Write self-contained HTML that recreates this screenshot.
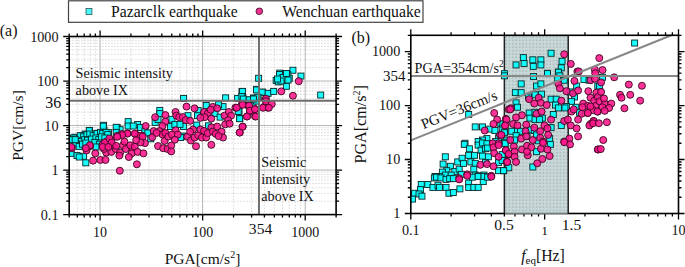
<!DOCTYPE html><html><head><meta charset="utf-8"><style>html,body{margin:0;padding:0;background:#fff;}svg{display:block;}text{font-family:"Liberation Serif", serif;fill:#111;}</style></head><body>
<svg width="685" height="267" viewBox="0 0 685 267">
<defs><clipPath id="cl"><rect x="69.2" y="36.5" width="266.90000000000003" height="178.1"/></clipPath><clipPath id="cr"><rect x="410.8" y="35.3" width="267.7" height="178.2"/></clipPath><pattern id="dots" x="504.3" y="35.3" width="3.4" height="3.4" patternUnits="userSpaceOnUse"><rect width="3.4" height="3.4" fill="#c8d8d8"/><rect x="1.1" y="1.1" width="1.3" height="1.3" fill="#a0afaf"/></pattern></defs>
<line x1="77.32" y1="36.5" x2="77.32" y2="214.6" stroke="#cfcfcf" stroke-width="0.8" stroke-dasharray="1.5,1.5"/>
<line x1="84.19" y1="36.5" x2="84.19" y2="214.6" stroke="#cfcfcf" stroke-width="0.8" stroke-dasharray="1.5,1.5"/>
<line x1="90.14" y1="36.5" x2="90.14" y2="214.6" stroke="#cfcfcf" stroke-width="0.8" stroke-dasharray="1.5,1.5"/>
<line x1="95.38" y1="36.5" x2="95.38" y2="214.6" stroke="#cfcfcf" stroke-width="0.8" stroke-dasharray="1.5,1.5"/>
<line x1="130.95" y1="36.5" x2="130.95" y2="214.6" stroke="#cfcfcf" stroke-width="0.8" stroke-dasharray="1.5,1.5"/>
<line x1="149.02" y1="36.5" x2="149.02" y2="214.6" stroke="#cfcfcf" stroke-width="0.8" stroke-dasharray="1.5,1.5"/>
<line x1="161.83" y1="36.5" x2="161.83" y2="214.6" stroke="#cfcfcf" stroke-width="0.8" stroke-dasharray="1.5,1.5"/>
<line x1="171.77" y1="36.5" x2="171.77" y2="214.6" stroke="#cfcfcf" stroke-width="0.8" stroke-dasharray="1.5,1.5"/>
<line x1="179.89" y1="36.5" x2="179.89" y2="214.6" stroke="#cfcfcf" stroke-width="0.8" stroke-dasharray="1.5,1.5"/>
<line x1="186.76" y1="36.5" x2="186.76" y2="214.6" stroke="#cfcfcf" stroke-width="0.8" stroke-dasharray="1.5,1.5"/>
<line x1="192.71" y1="36.5" x2="192.71" y2="214.6" stroke="#cfcfcf" stroke-width="0.8" stroke-dasharray="1.5,1.5"/>
<line x1="197.96" y1="36.5" x2="197.96" y2="214.6" stroke="#cfcfcf" stroke-width="0.8" stroke-dasharray="1.5,1.5"/>
<line x1="233.53" y1="36.5" x2="233.53" y2="214.6" stroke="#cfcfcf" stroke-width="0.8" stroke-dasharray="1.5,1.5"/>
<line x1="251.59" y1="36.5" x2="251.59" y2="214.6" stroke="#cfcfcf" stroke-width="0.8" stroke-dasharray="1.5,1.5"/>
<line x1="264.4" y1="36.5" x2="264.4" y2="214.6" stroke="#cfcfcf" stroke-width="0.8" stroke-dasharray="1.5,1.5"/>
<line x1="274.35" y1="36.5" x2="274.35" y2="214.6" stroke="#cfcfcf" stroke-width="0.8" stroke-dasharray="1.5,1.5"/>
<line x1="282.47" y1="36.5" x2="282.47" y2="214.6" stroke="#cfcfcf" stroke-width="0.8" stroke-dasharray="1.5,1.5"/>
<line x1="289.33" y1="36.5" x2="289.33" y2="214.6" stroke="#cfcfcf" stroke-width="0.8" stroke-dasharray="1.5,1.5"/>
<line x1="295.28" y1="36.5" x2="295.28" y2="214.6" stroke="#cfcfcf" stroke-width="0.8" stroke-dasharray="1.5,1.5"/>
<line x1="300.53" y1="36.5" x2="300.53" y2="214.6" stroke="#cfcfcf" stroke-width="0.8" stroke-dasharray="1.5,1.5"/>
<line x1="69.2" y1="201.2" x2="336.1" y2="201.2" stroke="#cfcfcf" stroke-width="0.8" stroke-dasharray="1.5,1.5"/>
<line x1="69.2" y1="193.36" x2="336.1" y2="193.36" stroke="#cfcfcf" stroke-width="0.8" stroke-dasharray="1.5,1.5"/>
<line x1="69.2" y1="187.79" x2="336.1" y2="187.79" stroke="#cfcfcf" stroke-width="0.8" stroke-dasharray="1.5,1.5"/>
<line x1="69.2" y1="183.48" x2="336.1" y2="183.48" stroke="#cfcfcf" stroke-width="0.8" stroke-dasharray="1.5,1.5"/>
<line x1="69.2" y1="179.95" x2="336.1" y2="179.95" stroke="#cfcfcf" stroke-width="0.8" stroke-dasharray="1.5,1.5"/>
<line x1="69.2" y1="176.97" x2="336.1" y2="176.97" stroke="#cfcfcf" stroke-width="0.8" stroke-dasharray="1.5,1.5"/>
<line x1="69.2" y1="174.39" x2="336.1" y2="174.39" stroke="#cfcfcf" stroke-width="0.8" stroke-dasharray="1.5,1.5"/>
<line x1="69.2" y1="172.11" x2="336.1" y2="172.11" stroke="#cfcfcf" stroke-width="0.8" stroke-dasharray="1.5,1.5"/>
<line x1="69.2" y1="156.67" x2="336.1" y2="156.67" stroke="#cfcfcf" stroke-width="0.8" stroke-dasharray="1.5,1.5"/>
<line x1="69.2" y1="148.83" x2="336.1" y2="148.83" stroke="#cfcfcf" stroke-width="0.8" stroke-dasharray="1.5,1.5"/>
<line x1="69.2" y1="143.27" x2="336.1" y2="143.27" stroke="#cfcfcf" stroke-width="0.8" stroke-dasharray="1.5,1.5"/>
<line x1="69.2" y1="138.95" x2="336.1" y2="138.95" stroke="#cfcfcf" stroke-width="0.8" stroke-dasharray="1.5,1.5"/>
<line x1="69.2" y1="135.43" x2="336.1" y2="135.43" stroke="#cfcfcf" stroke-width="0.8" stroke-dasharray="1.5,1.5"/>
<line x1="69.2" y1="132.45" x2="336.1" y2="132.45" stroke="#cfcfcf" stroke-width="0.8" stroke-dasharray="1.5,1.5"/>
<line x1="69.2" y1="129.86" x2="336.1" y2="129.86" stroke="#cfcfcf" stroke-width="0.8" stroke-dasharray="1.5,1.5"/>
<line x1="69.2" y1="127.59" x2="336.1" y2="127.59" stroke="#cfcfcf" stroke-width="0.8" stroke-dasharray="1.5,1.5"/>
<line x1="69.2" y1="112.15" x2="336.1" y2="112.15" stroke="#cfcfcf" stroke-width="0.8" stroke-dasharray="1.5,1.5"/>
<line x1="69.2" y1="104.31" x2="336.1" y2="104.31" stroke="#cfcfcf" stroke-width="0.8" stroke-dasharray="1.5,1.5"/>
<line x1="69.2" y1="98.74" x2="336.1" y2="98.74" stroke="#cfcfcf" stroke-width="0.8" stroke-dasharray="1.5,1.5"/>
<line x1="69.2" y1="94.43" x2="336.1" y2="94.43" stroke="#cfcfcf" stroke-width="0.8" stroke-dasharray="1.5,1.5"/>
<line x1="69.2" y1="90.9" x2="336.1" y2="90.9" stroke="#cfcfcf" stroke-width="0.8" stroke-dasharray="1.5,1.5"/>
<line x1="69.2" y1="87.92" x2="336.1" y2="87.92" stroke="#cfcfcf" stroke-width="0.8" stroke-dasharray="1.5,1.5"/>
<line x1="69.2" y1="85.34" x2="336.1" y2="85.34" stroke="#cfcfcf" stroke-width="0.8" stroke-dasharray="1.5,1.5"/>
<line x1="69.2" y1="83.06" x2="336.1" y2="83.06" stroke="#cfcfcf" stroke-width="0.8" stroke-dasharray="1.5,1.5"/>
<line x1="69.2" y1="67.62" x2="336.1" y2="67.62" stroke="#cfcfcf" stroke-width="0.8" stroke-dasharray="1.5,1.5"/>
<line x1="69.2" y1="59.78" x2="336.1" y2="59.78" stroke="#cfcfcf" stroke-width="0.8" stroke-dasharray="1.5,1.5"/>
<line x1="69.2" y1="54.22" x2="336.1" y2="54.22" stroke="#cfcfcf" stroke-width="0.8" stroke-dasharray="1.5,1.5"/>
<line x1="69.2" y1="49.9" x2="336.1" y2="49.9" stroke="#cfcfcf" stroke-width="0.8" stroke-dasharray="1.5,1.5"/>
<line x1="69.2" y1="46.38" x2="336.1" y2="46.38" stroke="#cfcfcf" stroke-width="0.8" stroke-dasharray="1.5,1.5"/>
<line x1="69.2" y1="43.4" x2="336.1" y2="43.4" stroke="#cfcfcf" stroke-width="0.8" stroke-dasharray="1.5,1.5"/>
<line x1="69.2" y1="40.81" x2="336.1" y2="40.81" stroke="#cfcfcf" stroke-width="0.8" stroke-dasharray="1.5,1.5"/>
<line x1="69.2" y1="38.54" x2="336.1" y2="38.54" stroke="#cfcfcf" stroke-width="0.8" stroke-dasharray="1.5,1.5"/>
<line x1="100.08" y1="36.5" x2="100.08" y2="214.6" stroke="#b4b4b4" stroke-width="1"/>
<line x1="202.65" y1="36.5" x2="202.65" y2="214.6" stroke="#b4b4b4" stroke-width="1"/>
<line x1="305.22" y1="36.5" x2="305.22" y2="214.6" stroke="#b4b4b4" stroke-width="1"/>
<line x1="69.2" y1="170.07" x2="336.1" y2="170.07" stroke="#b4b4b4" stroke-width="1"/>
<line x1="69.2" y1="125.55" x2="336.1" y2="125.55" stroke="#b4b4b4" stroke-width="1"/>
<line x1="69.2" y1="81.03" x2="336.1" y2="81.03" stroke="#b4b4b4" stroke-width="1"/>
<g clip-path="url(#cl)"><g fill="#00ffff" fill-opacity="0.9" stroke="#082828" stroke-width="0.9"><rect x="156.8" y="107.39" width="6" height="6"/><rect x="156.8" y="110.6" width="6" height="6"/><rect x="125.12" y="118.63" width="6" height="6"/><rect x="125.12" y="123.01" width="6" height="6"/><rect x="100.6" y="122.28" width="6" height="6"/><rect x="134.61" y="121.55" width="6" height="6"/><rect x="130.23" y="123.01" width="6" height="6"/><rect x="137.53" y="124.47" width="6" height="6"/><rect x="114.18" y="124.47" width="6" height="6"/><rect x="86.44" y="127.39" width="6" height="6"/><rect x="101.04" y="127.39" width="6" height="6"/><rect x="105.42" y="129.58" width="6" height="6"/><rect x="94.47" y="130.31" width="6" height="6"/><rect x="98.85" y="131.04" width="6" height="6"/><rect x="89.36" y="131.04" width="6" height="6"/><rect x="82.06" y="131.04" width="6" height="6"/><rect x="79.14" y="132.5" width="6" height="6"/><rect x="71.84" y="134.25" width="6" height="6"/><rect x="117.09" y="126.66" width="6" height="6"/><rect x="141.91" y="128.12" width="6" height="6"/><rect x="152.13" y="119.36" width="6" height="6"/><rect x="155.05" y="116.44" width="6" height="6"/><rect x="68.19" y="150.36" width="6" height="6"/><rect x="74.03" y="152.55" width="6" height="6"/><rect x="80.6" y="153.28" width="6" height="6"/><rect x="76.22" y="154.01" width="6" height="6"/><rect x="82.79" y="159.85" width="6" height="6"/><rect x="144.83" y="129.92" width="6" height="6"/><rect x="147.75" y="135.76" width="6" height="6"/><rect x="180.6" y="95.43" width="6" height="6"/><rect x="222.64" y="94.85" width="6" height="6"/><rect x="238.99" y="88.57" width="6" height="6"/><rect x="253.59" y="86.38" width="6" height="6"/><rect x="259.43" y="89.3" width="6" height="6"/><rect x="263.81" y="90.76" width="6" height="6"/><rect x="234.61" y="95.43" width="6" height="6"/><rect x="239.72" y="94.85" width="6" height="6"/><rect x="250.67" y="95.14" width="6" height="6"/><rect x="255.05" y="94.41" width="6" height="6"/><rect x="247.02" y="97.33" width="6" height="6"/><rect x="203.23" y="102.44" width="6" height="6"/><rect x="220.01" y="103.61" width="6" height="6"/><rect x="215.64" y="101.71" width="6" height="6"/><rect x="195.2" y="107.55" width="6" height="6"/><rect x="194.47" y="112.66" width="6" height="6"/><rect x="184.98" y="112.66" width="6" height="6"/><rect x="168.92" y="116.31" width="6" height="6"/><rect x="211.99" y="110.47" width="6" height="6"/><rect x="217.09" y="114.12" width="6" height="6"/><rect x="236.07" y="108.28" width="6" height="6"/><rect x="236.8" y="115.58" width="6" height="6"/><rect x="249.94" y="100.25" width="6" height="6"/><rect x="253.59" y="98.06" width="6" height="6"/><rect x="167.46" y="123.57" width="6" height="6"/><rect x="171.84" y="121.38" width="6" height="6"/><rect x="180.6" y="123.57" width="6" height="6"/><rect x="176.95" y="121.38" width="6" height="6"/><rect x="193.74" y="122.11" width="6" height="6"/><rect x="179.87" y="133.06" width="6" height="6"/><rect x="177.68" y="134.52" width="6" height="6"/><rect x="205.42" y="122.84" width="6" height="6"/><rect x="255.63" y="75.25" width="6" height="6"/><rect x="289.93" y="67.22" width="6" height="6"/><rect x="297.96" y="73.06" width="6" height="6"/><rect x="276.8" y="70.14" width="6" height="6"/><rect x="278.99" y="71.6" width="6" height="6"/><rect x="281.18" y="73.06" width="6" height="6"/><rect x="284.82" y="71.6" width="6" height="6"/><rect x="283.36" y="74.52" width="6" height="6"/><rect x="286.28" y="75.25" width="6" height="6"/><rect x="276.8" y="74.52" width="6" height="6"/><rect x="273.15" y="77.44" width="6" height="6"/><rect x="275.34" y="78.9" width="6" height="6"/><rect x="279.72" y="76.71" width="6" height="6"/><rect x="282.64" y="70.87" width="6" height="6"/><rect x="283.36" y="83.28" width="6" height="6"/><rect x="253.44" y="86.93" width="6" height="6"/><rect x="259.28" y="89.12" width="6" height="6"/><rect x="265.12" y="90.28" width="6" height="6"/><rect x="270.66" y="88.39" width="6" height="6"/><rect x="239.57" y="88.39" width="6" height="6"/><rect x="238.84" y="93.5" width="6" height="6"/><rect x="317.67" y="92.04" width="6" height="6"/><rect x="250.52" y="95.25" width="6" height="6"/><rect x="254.9" y="94.23" width="6" height="6"/><rect x="235.19" y="108.41" width="6" height="6"/><rect x="236.65" y="115.71" width="6" height="6"/><rect x="240.3" y="96" width="6" height="6"/><rect x="246.14" y="96.73" width="6" height="6"/><rect x="250.52" y="96" width="6" height="6"/><rect x="100.27" y="123.18" width="6" height="6"/><rect x="86.22" y="127.67" width="6" height="6"/><rect x="70.49" y="134.98" width="6" height="6"/><rect x="77.24" y="132.73" width="6" height="6"/><rect x="80.61" y="133.85" width="6" height="6"/><rect x="83.98" y="131.61" width="6" height="6"/><rect x="86.79" y="131.04" width="6" height="6"/><rect x="90.16" y="132.73" width="6" height="6"/><rect x="94.09" y="130.48" width="6" height="6"/><rect x="97.46" y="129.36" width="6" height="6"/><rect x="99.71" y="130.48" width="6" height="6"/><rect x="103.08" y="129.36" width="6" height="6"/><rect x="104.76" y="131.61" width="6" height="6"/><rect x="113.19" y="124.3" width="6" height="6"/><rect x="113.19" y="129.36" width="6" height="6"/><rect x="74.99" y="137.79" width="6" height="6"/><rect x="78.36" y="138.35" width="6" height="6"/><rect x="81.73" y="136.66" width="6" height="6"/><rect x="84.54" y="137.22" width="6" height="6"/><rect x="88.47" y="136.1" width="6" height="6"/><rect x="92.97" y="134.98" width="6" height="6"/><rect x="95.78" y="136.66" width="6" height="6"/><rect x="98.58" y="133.85" width="6" height="6"/><rect x="101.96" y="134.98" width="6" height="6"/><rect x="69.37" y="139.47" width="6" height="6"/><rect x="72.74" y="140.6" width="6" height="6"/><rect x="76.11" y="143.4" width="6" height="6"/><rect x="79.48" y="141.16" width="6" height="6"/><rect x="82.85" y="140.03" width="6" height="6"/><rect x="91.84" y="139.47" width="6" height="6"/><rect x="96.34" y="141.16" width="6" height="6"/><rect x="92.97" y="143.97" width="6" height="6"/><rect x="68.25" y="136.66" width="6" height="6"/><rect x="72.18" y="136.66" width="6" height="6"/><rect x="276.5" y="71.5" width="6" height="6"/><rect x="280" y="74.5" width="6" height="6"/><rect x="283.5" y="70.5" width="6" height="6"/><rect x="278" y="78" width="6" height="6"/><rect x="274.5" y="76" width="6" height="6"/><rect x="285" y="77" width="6" height="6"/></g><g fill="#ff168c" fill-opacity="0.88" stroke="#420a26" stroke-width="0.95"><circle cx="155.13" cy="117.25" r="3.5"/><circle cx="165.35" cy="115.06" r="3.5"/><circle cx="165.35" cy="121.63" r="3.5"/><circle cx="162.43" cy="126.01" r="3.5"/><circle cx="145.64" cy="126.01" r="3.5"/><circle cx="153.67" cy="131.12" r="3.5"/><circle cx="159.51" cy="131.12" r="3.5"/><circle cx="163.89" cy="133.31" r="3.5"/><circle cx="127.39" cy="133.31" r="3.5"/><circle cx="121.55" cy="134.04" r="3.5"/><circle cx="135.42" cy="134.04" r="3.5"/><circle cx="141.99" cy="135.5" r="3.5"/><circle cx="71.92" cy="148.25" r="3.5"/><circle cx="86.52" cy="150.44" r="3.5"/><circle cx="90.17" cy="146.06" r="3.5"/><circle cx="95.28" cy="153.36" r="3.5"/><circle cx="93.09" cy="160.66" r="3.5"/><circle cx="100.39" cy="159.93" r="3.5"/><circle cx="105.5" cy="159.93" r="3.5"/><circle cx="106.23" cy="152.63" r="3.5"/><circle cx="104.04" cy="148.98" r="3.5"/><circle cx="108.42" cy="143.87" r="3.5"/><circle cx="112.8" cy="146.06" r="3.5"/><circle cx="111.34" cy="151.9" r="3.5"/><circle cx="115.72" cy="148.98" r="3.5"/><circle cx="120.09" cy="152.63" r="3.5"/><circle cx="119.36" cy="155.55" r="3.5"/><circle cx="123.01" cy="145.33" r="3.5"/><circle cx="124.47" cy="141.68" r="3.5"/><circle cx="125.93" cy="148.98" r="3.5"/><circle cx="127.39" cy="133.65" r="3.5"/><circle cx="122.28" cy="135.11" r="3.5"/><circle cx="117.18" cy="135.84" r="3.5"/><circle cx="111.34" cy="140.22" r="3.5"/><circle cx="106.23" cy="141.68" r="3.5"/><circle cx="102.58" cy="144.6" r="3.5"/><circle cx="131.77" cy="147.52" r="3.5"/><circle cx="130.31" cy="145.33" r="3.5"/><circle cx="134.69" cy="146.79" r="3.5"/><circle cx="131.77" cy="153.36" r="3.5"/><circle cx="128.85" cy="157.01" r="3.5"/><circle cx="137.61" cy="151.9" r="3.5"/><circle cx="143.45" cy="153.36" r="3.5"/><circle cx="139.07" cy="135.84" r="3.5"/><circle cx="142.72" cy="136.57" r="3.5"/><circle cx="134.69" cy="133.65" r="3.5"/><circle cx="144.91" cy="143.14" r="3.5"/><circle cx="140.53" cy="142.41" r="3.5"/><circle cx="136.15" cy="140.22" r="3.5"/><circle cx="152.21" cy="137.3" r="3.5"/><circle cx="158.05" cy="146.06" r="3.5"/><circle cx="162.43" cy="134.38" r="3.5"/><circle cx="164.62" cy="140.95" r="3.5"/><circle cx="165.35" cy="132.92" r="3.5"/><circle cx="156.59" cy="132.92" r="3.5"/><circle cx="163.16" cy="148.25" r="3.5"/><circle cx="167.54" cy="148.98" r="3.5"/><circle cx="136.88" cy="164.31" r="3.5"/><circle cx="119.8" cy="170.73" r="3.5"/><circle cx="168.27" cy="136.57" r="3.5"/><circle cx="186.52" cy="106.61" r="3.5"/><circle cx="194.55" cy="108.36" r="3.5"/><circle cx="175.57" cy="112.01" r="3.5"/><circle cx="176.3" cy="115.66" r="3.5"/><circle cx="179.22" cy="117.12" r="3.5"/><circle cx="182.87" cy="117.12" r="3.5"/><circle cx="185.79" cy="120.04" r="3.5"/><circle cx="190.17" cy="120.77" r="3.5"/><circle cx="204.04" cy="112.01" r="3.5"/><circle cx="207.69" cy="113.47" r="3.5"/><circle cx="204.77" cy="117.12" r="3.5"/><circle cx="200.39" cy="117.85" r="3.5"/><circle cx="211.34" cy="118.58" r="3.5"/><circle cx="212.8" cy="106.9" r="3.5"/><circle cx="217.18" cy="108.36" r="3.5"/><circle cx="210.61" cy="109.82" r="3.5"/><circle cx="224.47" cy="115.66" r="3.5"/><circle cx="228.85" cy="112.01" r="3.5"/><circle cx="231.04" cy="115.66" r="3.5"/><circle cx="228.12" cy="120.04" r="3.5"/><circle cx="235.42" cy="107.63" r="3.5"/><circle cx="241.99" cy="103.98" r="3.5"/><circle cx="248.56" cy="106.17" r="3.5"/><circle cx="250.02" cy="111.28" r="3.5"/><circle cx="255.13" cy="109.09" r="3.5"/><circle cx="247.1" cy="116.39" r="3.5"/><circle cx="255.13" cy="116.39" r="3.5"/><circle cx="263.89" cy="106.9" r="3.5"/><circle cx="265.35" cy="99.6" r="3.5"/><circle cx="267.54" cy="107.63" r="3.5"/><circle cx="175.57" cy="130.22" r="3.5"/><circle cx="171.92" cy="134.6" r="3.5"/><circle cx="177.76" cy="134.6" r="3.5"/><circle cx="174.84" cy="139.71" r="3.5"/><circle cx="171.19" cy="145.55" r="3.5"/><circle cx="171.19" cy="151.39" r="3.5"/><circle cx="187.25" cy="136.79" r="3.5"/><circle cx="190.9" cy="140.44" r="3.5"/><circle cx="194.55" cy="137.52" r="3.5"/><circle cx="196.01" cy="146.28" r="3.5"/><circle cx="193.09" cy="129.49" r="3.5"/><circle cx="190.17" cy="131.68" r="3.5"/><circle cx="198.2" cy="135.33" r="3.5"/><circle cx="200.39" cy="129.49" r="3.5"/><circle cx="204.04" cy="130.95" r="3.5"/><circle cx="201.85" cy="137.52" r="3.5"/><circle cx="206.23" cy="137.52" r="3.5"/><circle cx="207.69" cy="133.14" r="3.5"/><circle cx="211.34" cy="127.3" r="3.5"/><circle cx="212.8" cy="131.68" r="3.5"/><circle cx="217.18" cy="126.57" r="3.5"/><circle cx="215.72" cy="133.87" r="3.5"/><circle cx="211.34" cy="144.82" r="3.5"/><circle cx="221.55" cy="131.68" r="3.5"/><circle cx="223.01" cy="137.52" r="3.5"/><circle cx="218.64" cy="136.06" r="3.5"/><circle cx="225.2" cy="124.38" r="3.5"/><circle cx="229.58" cy="123.65" r="3.5"/><circle cx="242.72" cy="126.57" r="3.5"/><circle cx="239.8" cy="132.41" r="3.5"/><circle cx="298.77" cy="81.17" r="3.5"/><circle cx="281.26" cy="91.39" r="3.5"/><circle cx="292.93" cy="95.77" r="3.5"/><circle cx="265.93" cy="98.69" r="3.5"/><circle cx="242.57" cy="104.84" r="3.5"/><circle cx="236.73" cy="107.76" r="3.5"/><circle cx="249.14" cy="105.57" r="3.5"/><circle cx="249.87" cy="110.68" r="3.5"/><circle cx="254.98" cy="109.22" r="3.5"/><circle cx="255.71" cy="116.52" r="3.5"/><circle cx="246.95" cy="116.52" r="3.5"/><circle cx="265.93" cy="101.19" r="3.5"/><circle cx="271.77" cy="104.11" r="3.5"/><circle cx="263.01" cy="107.76" r="3.5"/><circle cx="268.85" cy="107.76" r="3.5"/><circle cx="242.57" cy="126.74" r="3.5"/><circle cx="239.65" cy="132.58" r="3.5"/><circle cx="71.25" cy="146.97" r="3.5"/><circle cx="89.79" cy="145.28" r="3.5"/><circle cx="85.85" cy="148.09" r="3.5"/><circle cx="104.96" cy="142.47" r="3.5"/><circle cx="109.45" cy="138.54" r="3.5"/><circle cx="111.7" cy="142.47" r="3.5"/><circle cx="116.19" cy="145.84" r="3.5"/><circle cx="117.31" cy="136.85" r="3.5"/><circle cx="102.71" cy="146.97" r="3.5"/><circle cx="108.33" cy="146.97" r="3.5"/></g></g>
<line x1="258.96" y1="36.5" x2="258.96" y2="214.6" stroke="#6e6e6e" stroke-width="2"/>
<line x1="69.2" y1="100.78" x2="336.1" y2="100.78" stroke="#6e6e6e" stroke-width="2"/>
<path d="M69.2 214.6v3M69.2 36.5v-3M77.32 214.6v3M77.32 36.5v-3M84.19 214.6v3M84.19 36.5v-3M90.14 214.6v3M90.14 36.5v-3M95.38 214.6v3M95.38 36.5v-3M100.08 214.6v6M100.08 36.5v-6M130.95 214.6v3M130.95 36.5v-3M149.02 214.6v3M149.02 36.5v-3M161.83 214.6v3M161.83 36.5v-3M171.77 214.6v3M171.77 36.5v-3M179.89 214.6v3M179.89 36.5v-3M186.76 214.6v3M186.76 36.5v-3M192.71 214.6v3M192.71 36.5v-3M197.96 214.6v3M197.96 36.5v-3M202.65 214.6v6M202.65 36.5v-6M233.53 214.6v3M233.53 36.5v-3M251.59 214.6v3M251.59 36.5v-3M264.4 214.6v3M264.4 36.5v-3M274.35 214.6v3M274.35 36.5v-3M282.47 214.6v3M282.47 36.5v-3M289.33 214.6v3M289.33 36.5v-3M295.28 214.6v3M295.28 36.5v-3M300.53 214.6v3M300.53 36.5v-3M305.22 214.6v6M305.22 36.5v-6M336.1 214.6v3M336.1 36.5v-3M69.2 214.6h-6M336.1 214.6h6M69.2 201.2h-3M336.1 201.2h3M69.2 193.36h-3M336.1 193.36h3M69.2 187.79h-3M336.1 187.79h3M69.2 183.48h-3M336.1 183.48h3M69.2 179.95h-3M336.1 179.95h3M69.2 176.97h-3M336.1 176.97h3M69.2 174.39h-3M336.1 174.39h3M69.2 172.11h-3M336.1 172.11h3M69.2 170.07h-6M336.1 170.07h6M69.2 156.67h-3M336.1 156.67h3M69.2 148.83h-3M336.1 148.83h3M69.2 143.27h-3M336.1 143.27h3M69.2 138.95h-3M336.1 138.95h3M69.2 135.43h-3M336.1 135.43h3M69.2 132.45h-3M336.1 132.45h3M69.2 129.86h-3M336.1 129.86h3M69.2 127.59h-3M336.1 127.59h3M69.2 125.55h-6M336.1 125.55h6M69.2 112.15h-3M336.1 112.15h3M69.2 104.31h-3M336.1 104.31h3M69.2 98.74h-3M336.1 98.74h3M69.2 94.43h-3M336.1 94.43h3M69.2 90.9h-3M336.1 90.9h3M69.2 87.92h-3M336.1 87.92h3M69.2 85.34h-3M336.1 85.34h3M69.2 83.06h-3M336.1 83.06h3M69.2 81.03h-6M336.1 81.03h6M69.2 67.62h-3M336.1 67.62h3M69.2 59.78h-3M336.1 59.78h3M69.2 54.22h-3M336.1 54.22h3M69.2 49.9h-3M336.1 49.9h3M69.2 46.38h-3M336.1 46.38h3M69.2 43.4h-3M336.1 43.4h3M69.2 40.81h-3M336.1 40.81h3M69.2 38.54h-3M336.1 38.54h3M69.2 36.5h-6M336.1 36.5h6" stroke="#000" stroke-width="1.3" fill="none"/>
<rect x="69.2" y="36.5" width="266.9" height="178.1" fill="none" stroke="#000" stroke-width="1.6"/>
<rect x="504.36" y="35.3" width="63.86" height="178.2" fill="url(#dots)"/>
<line x1="504.36" y1="35.3" x2="504.36" y2="213.5" stroke="#222" stroke-width="1.5"/>
<line x1="568.22" y1="35.3" x2="568.22" y2="213.5" stroke="#222" stroke-width="1.5"/>
<g clip-path="url(#cr)"><g fill="#00ffff" fill-opacity="0.9" stroke="#082828" stroke-width="0.9"><rect x="548.09" y="50.25" width="6" height="6"/><rect x="520.36" y="54.63" width="6" height="6"/><rect x="521.09" y="60.47" width="6" height="6"/><rect x="513.06" y="61.93" width="6" height="6"/><rect x="529.85" y="56.82" width="6" height="6"/><rect x="530.28" y="63.39" width="6" height="6"/><rect x="537.88" y="56.82" width="6" height="6"/><rect x="537.88" y="61.93" width="6" height="6"/><rect x="559.04" y="58.28" width="6" height="6"/><rect x="558.31" y="64.85" width="6" height="6"/><rect x="501.38" y="70.69" width="6" height="6"/><rect x="544.45" y="70.25" width="6" height="6"/><rect x="555.39" y="69.23" width="6" height="6"/><rect x="465.66" y="111.49" width="6" height="6"/><rect x="472.23" y="123.9" width="6" height="6"/><rect x="479.53" y="123.9" width="6" height="6"/><rect x="486.83" y="126.09" width="6" height="6"/><rect x="491.94" y="127.55" width="6" height="6"/><rect x="497.78" y="120.98" width="6" height="6"/><rect x="499.24" y="125.36" width="6" height="6"/><rect x="501.43" y="129.01" width="6" height="6"/><rect x="495.59" y="134.85" width="6" height="6"/><rect x="483.91" y="135.58" width="6" height="6"/><rect x="479.53" y="137.04" width="6" height="6"/><rect x="475.15" y="138.5" width="6" height="6"/><rect x="462.01" y="140.25" width="6" height="6"/><rect x="492.67" y="138.5" width="6" height="6"/><rect x="503.62" y="137.04" width="6" height="6"/><rect x="461.28" y="141.38" width="6" height="6"/><rect x="466.39" y="145.76" width="6" height="6"/><rect x="475.15" y="142.11" width="6" height="6"/><rect x="479.53" y="139.92" width="6" height="6"/><rect x="483.91" y="140.65" width="6" height="6"/><rect x="478.07" y="147.22" width="6" height="6"/><rect x="482.45" y="145.76" width="6" height="6"/><rect x="484.64" y="145.03" width="6" height="6"/><rect x="442.31" y="153.79" width="6" height="6"/><rect x="440.12" y="161.09" width="6" height="6"/><rect x="447.42" y="163.28" width="6" height="6"/><rect x="443.77" y="167.66" width="6" height="6"/><rect x="439.39" y="169.12" width="6" height="6"/><rect x="432.09" y="173.5" width="6" height="6"/><rect x="437.2" y="173.5" width="6" height="6"/><rect x="442.31" y="172.04" width="6" height="6"/><rect x="451.8" y="168.39" width="6" height="6"/><rect x="456.18" y="166.2" width="6" height="6"/><rect x="454.72" y="158.9" width="6" height="6"/><rect x="459.09" y="155.25" width="6" height="6"/><rect x="460.55" y="160.36" width="6" height="6"/><rect x="465.66" y="152.33" width="6" height="6"/><rect x="471.5" y="152.33" width="6" height="6"/><rect x="467.85" y="158.9" width="6" height="6"/><rect x="472.23" y="160.36" width="6" height="6"/><rect x="479.53" y="153.06" width="6" height="6"/><rect x="485.37" y="153.79" width="6" height="6"/><rect x="482.45" y="159.63" width="6" height="6"/><rect x="495.59" y="159.63" width="6" height="6"/><rect x="501.43" y="157.44" width="6" height="6"/><rect x="495.59" y="167.66" width="6" height="6"/><rect x="500.7" y="167.66" width="6" height="6"/><rect x="470.77" y="166.2" width="6" height="6"/><rect x="472.23" y="172.04" width="6" height="6"/><rect x="475.88" y="172.77" width="6" height="6"/><rect x="480.99" y="172.04" width="6" height="6"/><rect x="448.15" y="172.04" width="6" height="6"/><rect x="458.36" y="171.31" width="6" height="6"/><rect x="418.22" y="181.49" width="6" height="6"/><rect x="424.79" y="181.49" width="6" height="6"/><rect x="417.49" y="186.6" width="6" height="6"/><rect x="411.65" y="190.25" width="6" height="6"/><rect x="416.03" y="190.98" width="6" height="6"/><rect x="418.95" y="193.17" width="6" height="6"/><rect x="409.46" y="196.09" width="6" height="6"/><rect x="429.9" y="184.41" width="6" height="6"/><rect x="435.01" y="182.22" width="6" height="6"/><rect x="436.47" y="184.41" width="6" height="6"/><rect x="443.04" y="184.41" width="6" height="6"/><rect x="445.96" y="190.25" width="6" height="6"/><rect x="450.34" y="189.52" width="6" height="6"/><rect x="456.91" y="185.87" width="6" height="6"/><rect x="465.66" y="180.03" width="6" height="6"/><rect x="465.66" y="184.41" width="6" height="6"/><rect x="470.77" y="184.41" width="6" height="6"/><rect x="475.15" y="184.41" width="6" height="6"/><rect x="480.26" y="178.57" width="6" height="6"/><rect x="431.36" y="174.92" width="6" height="6"/><rect x="433.55" y="174.19" width="6" height="6"/><rect x="437.93" y="174.92" width="6" height="6"/><rect x="443.04" y="176.38" width="6" height="6"/><rect x="446.69" y="175.65" width="6" height="6"/><rect x="450.34" y="175.65" width="6" height="6"/><rect x="469.31" y="174.19" width="6" height="6"/><rect x="475.15" y="173.46" width="6" height="6"/><rect x="480.99" y="173.46" width="6" height="6"/><rect x="484.64" y="174.19" width="6" height="6"/><rect x="501.38" y="72.84" width="6" height="6"/><rect x="530.58" y="73.57" width="6" height="6"/><rect x="544.45" y="70.65" width="6" height="6"/><rect x="555.39" y="69.19" width="6" height="6"/><rect x="556.85" y="72.84" width="6" height="6"/><rect x="554.66" y="76.49" width="6" height="6"/><rect x="561.23" y="77.22" width="6" height="6"/><rect x="518.17" y="80.87" width="6" height="6"/><rect x="533.5" y="83.06" width="6" height="6"/><rect x="537.88" y="80.87" width="6" height="6"/><rect x="512.33" y="89.63" width="6" height="6"/><rect x="518.17" y="89.63" width="6" height="6"/><rect x="525.47" y="94.01" width="6" height="6"/><rect x="532.04" y="91.82" width="6" height="6"/><rect x="538.61" y="91.09" width="6" height="6"/><rect x="548.09" y="96.2" width="6" height="6"/><rect x="553.2" y="96.2" width="6" height="6"/><rect x="552.47" y="102.04" width="6" height="6"/><rect x="513.06" y="99.85" width="6" height="6"/><rect x="514.52" y="104.23" width="6" height="6"/><rect x="567.07" y="88.9" width="6" height="6"/><rect x="571.45" y="94.01" width="6" height="6"/><rect x="568.53" y="98.39" width="6" height="6"/><rect x="573.64" y="83.06" width="6" height="6"/><rect x="580.94" y="76.49" width="6" height="6"/><rect x="586.05" y="77.22" width="6" height="6"/><rect x="594.81" y="83.06" width="6" height="6"/><rect x="572.91" y="104.23" width="6" height="6"/><rect x="563.42" y="103.5" width="6" height="6"/><rect x="526.2" y="110.03" width="6" height="6"/><rect x="532.04" y="109.3" width="6" height="6"/><rect x="539.34" y="115.14" width="6" height="6"/><rect x="526.93" y="115.14" width="6" height="6"/><rect x="532.04" y="116.6" width="6" height="6"/><rect x="536.42" y="116.6" width="6" height="6"/><rect x="550.28" y="111.49" width="6" height="6"/><rect x="561.96" y="104.92" width="6" height="6"/><rect x="558.31" y="122.44" width="6" height="6"/><rect x="508.68" y="128.28" width="6" height="6"/><rect x="514.52" y="127.55" width="6" height="6"/><rect x="517.44" y="128.28" width="6" height="6"/><rect x="527.66" y="126.82" width="6" height="6"/><rect x="531.31" y="127.55" width="6" height="6"/><rect x="501.38" y="129.74" width="6" height="6"/><rect x="499.92" y="120.98" width="6" height="6"/><rect x="513.06" y="132.66" width="6" height="6"/><rect x="524.01" y="133.39" width="6" height="6"/><rect x="533.5" y="131.93" width="6" height="6"/><rect x="548.09" y="124.63" width="6" height="6"/><rect x="546.64" y="135.58" width="6" height="6"/><rect x="502.11" y="139.23" width="6" height="6"/><rect x="511.6" y="137.04" width="6" height="6"/><rect x="534.96" y="137.77" width="6" height="6"/><rect x="576.56" y="109.3" width="6" height="6"/><rect x="555.39" y="104.92" width="6" height="6"/><rect x="502.11" y="140.65" width="6" height="6"/><rect x="499.19" y="151.6" width="6" height="6"/><rect x="499.19" y="157.44" width="6" height="6"/><rect x="505.76" y="164.74" width="6" height="6"/><rect x="500.65" y="167.66" width="6" height="6"/><rect x="529.85" y="164.01" width="6" height="6"/><rect x="533.5" y="148.68" width="6" height="6"/><rect x="547.36" y="141.38" width="6" height="6"/><rect x="631.64" y="40.03" width="6" height="6"/><rect x="596.6" y="83.06" width="6" height="6"/><rect x="595.14" y="94.01" width="6" height="6"/><rect x="599.52" y="74.3" width="6" height="6"/></g><g fill="#ff168c" fill-opacity="0.88" stroke="#420a26" stroke-width="0.95"><circle cx="564.23" cy="54.27" r="3.5"/><circle cx="570.8" cy="63.91" r="3.5"/><circle cx="577.37" cy="71.5" r="3.5"/><circle cx="599.27" cy="58.07" r="3.5"/><circle cx="594.89" cy="69.74" r="3.5"/><circle cx="494.21" cy="113.03" r="3.5"/><circle cx="497.13" cy="119.6" r="3.5"/><circle cx="505.89" cy="118.87" r="3.5"/><circle cx="493.48" cy="123.98" r="3.5"/><circle cx="505.16" cy="125.44" r="3.5"/><circle cx="484.72" cy="130.55" r="3.5"/><circle cx="500.05" cy="134.93" r="3.5"/><circle cx="508.81" cy="109.38" r="3.5"/><circle cx="492.75" cy="143.25" r="3.5"/><circle cx="498.59" cy="143.25" r="3.5"/><circle cx="493.48" cy="147.3" r="3.5"/><circle cx="498.59" cy="145.11" r="3.5"/><circle cx="494.21" cy="153.14" r="3.5"/><circle cx="498.59" cy="156.79" r="3.5"/><circle cx="505.89" cy="150.22" r="3.5"/><circle cx="508.81" cy="154.6" r="3.5"/><circle cx="506.62" cy="161.9" r="3.5"/><circle cx="480.34" cy="164.82" r="3.5"/><circle cx="486.91" cy="164.09" r="3.5"/><circle cx="493.48" cy="166.28" r="3.5"/><circle cx="467.2" cy="174.31" r="3.5"/><circle cx="491.29" cy="175.77" r="3.5"/><circle cx="459.18" cy="178.25" r="3.5"/><circle cx="459.18" cy="179.38" r="3.5"/><circle cx="467.2" cy="175.73" r="3.5"/><circle cx="491.29" cy="176.75" r="3.5"/><circle cx="558.39" cy="83.87" r="3.5"/><circle cx="559.85" cy="88.25" r="3.5"/><circle cx="566.42" cy="91.17" r="3.5"/><circle cx="572.99" cy="93.36" r="3.5"/><circle cx="578.1" cy="90.44" r="3.5"/><circle cx="574.45" cy="80.95" r="3.5"/><circle cx="578.83" cy="71.46" r="3.5"/><circle cx="590.51" cy="80.22" r="3.5"/><circle cx="594.89" cy="78.76" r="3.5"/><circle cx="588.32" cy="91.17" r="3.5"/><circle cx="596.35" cy="92.63" r="3.5"/><circle cx="529.2" cy="99.2" r="3.5"/><circle cx="534.31" cy="103.58" r="3.5"/><circle cx="538.69" cy="97.74" r="3.5"/><circle cx="540.88" cy="102.85" r="3.5"/><circle cx="546.72" cy="105.04" r="3.5"/><circle cx="561.31" cy="100.66" r="3.5"/><circle cx="583.21" cy="103.58" r="3.5"/><circle cx="590.51" cy="97.74" r="3.5"/><circle cx="594.16" cy="100.66" r="3.5"/><circle cx="597.81" cy="97.01" r="3.5"/><circle cx="510.95" cy="108.25" r="3.5"/><circle cx="595.62" cy="105.77" r="3.5"/><circle cx="587.59" cy="105.77" r="3.5"/><circle cx="510.22" cy="109.38" r="3.5"/><circle cx="521.9" cy="115.22" r="3.5"/><circle cx="516.06" cy="117.41" r="3.5"/><circle cx="506.57" cy="119.6" r="3.5"/><circle cx="536.5" cy="113.76" r="3.5"/><circle cx="541.61" cy="111.57" r="3.5"/><circle cx="551.09" cy="119.6" r="3.5"/><circle cx="564.23" cy="121.06" r="3.5"/><circle cx="567.88" cy="119.6" r="3.5"/><circle cx="571.53" cy="111.57" r="3.5"/><circle cx="573.72" cy="109.38" r="3.5"/><circle cx="578.1" cy="119.6" r="3.5"/><circle cx="581.75" cy="113.76" r="3.5"/><circle cx="587.59" cy="113.03" r="3.5"/><circle cx="593.43" cy="110.11" r="3.5"/><circle cx="597.81" cy="111.57" r="3.5"/><circle cx="590.51" cy="123.98" r="3.5"/><circle cx="593.43" cy="121.06" r="3.5"/><circle cx="570.8" cy="125.44" r="3.5"/><circle cx="576.64" cy="128.36" r="3.5"/><circle cx="578.1" cy="136.39" r="3.5"/><circle cx="505.11" cy="125.44" r="3.5"/><circle cx="513.14" cy="123.98" r="3.5"/><circle cx="517.52" cy="125.44" r="3.5"/><circle cx="526.28" cy="124.71" r="3.5"/><circle cx="534.31" cy="127.63" r="3.5"/><circle cx="544.53" cy="125.44" r="3.5"/><circle cx="547.45" cy="128.36" r="3.5"/><circle cx="540.15" cy="131.28" r="3.5"/><circle cx="525.55" cy="131.28" r="3.5"/><circle cx="501.46" cy="134.93" r="3.5"/><circle cx="510.22" cy="140.04" r="3.5"/><circle cx="521.17" cy="138.58" r="3.5"/><circle cx="526.28" cy="136.39" r="3.5"/><circle cx="532.85" cy="140.04" r="3.5"/><circle cx="540.15" cy="137.85" r="3.5"/><circle cx="548.18" cy="134.93" r="3.5"/><circle cx="543.07" cy="141.5" r="3.5"/><circle cx="564.23" cy="141.5" r="3.5"/><circle cx="569.34" cy="138.58" r="3.5"/><circle cx="582.48" cy="107.19" r="3.5"/><circle cx="590.51" cy="106.46" r="3.5"/><circle cx="505.84" cy="150.22" r="3.5"/><circle cx="508.76" cy="153.87" r="3.5"/><circle cx="513.87" cy="146.57" r="3.5"/><circle cx="514.6" cy="151.68" r="3.5"/><circle cx="514.6" cy="156.79" r="3.5"/><circle cx="516.06" cy="161.9" r="3.5"/><circle cx="507.3" cy="161.9" r="3.5"/><circle cx="521.9" cy="149.49" r="3.5"/><circle cx="527.01" cy="145.84" r="3.5"/><circle cx="531.39" cy="147.3" r="3.5"/><circle cx="527.74" cy="155.33" r="3.5"/><circle cx="527.01" cy="151.68" r="3.5"/><circle cx="540.88" cy="148.76" r="3.5"/><circle cx="547.45" cy="149.49" r="3.5"/><circle cx="549.64" cy="156.06" r="3.5"/><circle cx="542.34" cy="158.98" r="3.5"/><circle cx="537.23" cy="163.36" r="3.5"/><circle cx="543.07" cy="142.92" r="3.5"/><circle cx="564.23" cy="142.19" r="3.5"/><circle cx="570.07" cy="144.38" r="3.5"/><circle cx="597.81" cy="149.49" r="3.5"/><circle cx="602.52" cy="70.04" r="3.5"/><circle cx="595.22" cy="73.25" r="3.5"/><circle cx="601.06" cy="82.41" r="3.5"/><circle cx="614.2" cy="77.3" r="3.5"/><circle cx="628.8" cy="84.6" r="3.5"/><circle cx="641.93" cy="85.77" r="3.5"/><circle cx="601.06" cy="91.9" r="3.5"/><circle cx="620.04" cy="94.82" r="3.5"/><circle cx="621.5" cy="97.74" r="3.5"/><circle cx="630.26" cy="94.82" r="3.5"/><circle cx="640.18" cy="100.66" r="3.5"/><circle cx="599.6" cy="101.39" r="3.5"/><circle cx="604.71" cy="103.58" r="3.5"/><circle cx="611.28" cy="103.58" r="3.5"/><circle cx="602.52" cy="107.23" r="3.5"/><circle cx="609.09" cy="107.96" r="3.5"/><circle cx="624.42" cy="108.25" r="3.5"/><circle cx="603.98" cy="98.47" r="3.5"/><circle cx="587.92" cy="113.03" r="3.5"/><circle cx="597.41" cy="111.57" r="3.5"/><circle cx="604.71" cy="110.84" r="3.5"/><circle cx="589.38" cy="125.44" r="3.5"/><circle cx="593.76" cy="121.06" r="3.5"/><circle cx="593.03" cy="123.25" r="3.5"/><circle cx="598.87" cy="123.25" r="3.5"/><circle cx="606.9" cy="122.23" r="3.5"/><circle cx="603.25" cy="140.04" r="3.5"/><circle cx="598.14" cy="149.49" r="3.5"/><circle cx="600.77" cy="149.05" r="3.5"/></g></g>
<line x1="410.8" y1="75.9" x2="678.5" y2="75.9" stroke="#888" stroke-width="2"/>
<line x1="410.8" y1="140.38" x2="671.35" y2="35.3" stroke="#888" stroke-width="2"/>
<path d="M410.8 213.5v6M410.8 35.3v-6M451.09 213.5v3M451.09 35.3v-3M474.66 213.5v3M474.66 35.3v-3M491.39 213.5v3M491.39 35.3v-3M504.36 213.5v3M504.36 35.3v-3M514.96 213.5v3M514.96 35.3v-3M523.92 213.5v3M523.92 35.3v-3M531.68 213.5v3M531.68 35.3v-3M538.53 213.5v3M538.53 35.3v-3M544.65 213.5v6M544.65 35.3v-6M584.94 213.5v3M584.94 35.3v-3M608.51 213.5v3M608.51 35.3v-3M625.24 213.5v3M625.24 35.3v-3M638.21 213.5v3M638.21 35.3v-3M648.81 213.5v3M648.81 35.3v-3M657.77 213.5v3M657.77 35.3v-3M665.53 213.5v3M665.53 35.3v-3M672.38 213.5v3M672.38 35.3v-3M678.5 213.5v6M678.5 35.3v-6M410.8 213.5h-6M678.5 213.5h6M410.8 197.25h-3M678.5 197.25h3M410.8 187.74h-3M678.5 187.74h3M410.8 181h-3M678.5 181h3M410.8 175.77h-3M678.5 175.77h3M410.8 171.49h-3M678.5 171.49h3M410.8 167.88h-3M678.5 167.88h3M410.8 164.75h-3M678.5 164.75h3M410.8 161.99h-3M678.5 161.99h3M410.8 159.52h-6M678.5 159.52h6M410.8 143.27h-3M678.5 143.27h3M410.8 133.76h-3M678.5 133.76h3M410.8 127.02h-3M678.5 127.02h3M410.8 121.78h-3M678.5 121.78h3M410.8 117.51h-3M678.5 117.51h3M410.8 113.9h-3M678.5 113.9h3M410.8 110.77h-3M678.5 110.77h3M410.8 108h-3M678.5 108h3M410.8 105.53h-6M678.5 105.53h6M410.8 89.28h-3M678.5 89.28h3M410.8 79.78h-3M678.5 79.78h3M410.8 73.03h-3M678.5 73.03h3M410.8 67.8h-3M678.5 67.8h3M410.8 63.53h-3M678.5 63.53h3M410.8 59.91h-3M678.5 59.91h3M410.8 56.78h-3M678.5 56.78h3M410.8 54.02h-3M678.5 54.02h3M410.8 51.55h-6M678.5 51.55h6M410.8 35.3h-3M678.5 35.3h3" stroke="#000" stroke-width="1.3" fill="none"/>
<rect x="410.8" y="35.3" width="267.7" height="178.2" fill="none" stroke="#000" stroke-width="1.6"/>
<rect x="505.16" y="212.5" width="62.26" height="0.9" fill="#c8d8d8"/>
<rect x="505.16" y="213.4" width="62.26" height="0.9" fill="#8a9696"/>
<text x="58.5" y="41.8" font-size="14.2" text-anchor="end" >1000</text>
<text x="58.5" y="86.33" font-size="14.2" text-anchor="end" >100</text>
<text x="58.5" y="130.85" font-size="14.2" text-anchor="end" >10</text>
<text x="58.5" y="175.38" font-size="14.2" text-anchor="end" >1</text>
<text x="58.5" y="219.9" font-size="14.2" text-anchor="end" >0.1</text>
<text x="61.3" y="107.9" font-size="16" text-anchor="end" >36</text>
<text x="100.08" y="237" font-size="14" text-anchor="middle" >10</text>
<text x="202.65" y="237" font-size="14" text-anchor="middle" >100</text>
<text x="305.22" y="237" font-size="14" text-anchor="middle" >1000</text>
<text x="260.56" y="234.4" font-size="15.6" text-anchor="middle" >354</text>
<text x="-0.3" y="36.3" font-size="16" text-anchor="start" >(a)</text>
<text x="202.5" y="263.5" font-size="15.5" text-anchor="middle" >PGA[cm/s<tspan dy="-6" font-size="10">2</tspan><tspan dy="6">]</tspan></text>
<text x="0" y="0" font-size="15.5" text-anchor="middle" transform="translate(23.3 125.5) rotate(-90)">PGV[cm/s]</text>
<text x="75.6" y="77.7" font-size="14.2" text-anchor="start" >Seismic intensity</text>
<text x="75.6" y="95.1" font-size="14.2" text-anchor="start" >above IX</text>
<text x="261.3" y="166.5" font-size="14.2" text-anchor="start" >Seismic</text>
<text x="261.3" y="183.8" font-size="14.2" text-anchor="start" >intensity</text>
<text x="261.3" y="201.1" font-size="14.2" text-anchor="start" >above IX</text>
<text x="400.3" y="56.35" font-size="14.2" text-anchor="end" >1000</text>
<text x="400.3" y="110.33" font-size="14.2" text-anchor="end" >100</text>
<text x="400.3" y="164.32" font-size="14.2" text-anchor="end" >10</text>
<text x="400.3" y="218.3" font-size="14.2" text-anchor="end" >1</text>
<text x="405.5" y="80.9" font-size="15" text-anchor="end" >354</text>
<text x="410.8" y="234.8" font-size="14.2" text-anchor="middle" >0.1</text>
<text x="544.65" y="234.8" font-size="13.5" text-anchor="middle" >1</text>
<text x="678.5" y="234.8" font-size="14.2" text-anchor="middle" >10</text>
<text x="504.06" y="230.3" font-size="15.6" text-anchor="middle" >0.5</text>
<text x="571.52" y="230.3" font-size="15.6" text-anchor="middle" >1.5</text>
<text x="351.5" y="42.8" font-size="16" text-anchor="start" >(b)</text>
<text x="0" y="0" font-size="16.1" text-anchor="middle" transform="translate(365.6 124.3) rotate(-90)">PGA[cm/s<tspan dy="-6" font-size="10">2</tspan><tspan dy="6">]</tspan></text>
<text x="543" y="261" font-size="15.8" text-anchor="middle" ><tspan font-style="italic">f</tspan><tspan font-size="11" dy="3">eq</tspan><tspan dy="-3">[Hz]</tspan></text>
<text x="414.6" y="72.6" font-size="14.2" text-anchor="start" >PGA=354cm/s<tspan dy="-6" font-size="9.5">2</tspan></text>
<text x="0" y="0" font-size="14.8" transform="translate(423.4 129.3) rotate(-21.96)">PGV=36cm/s</text>
<rect x="68.5" y="0.8" width="354.5" height="21.5" fill="#fff" stroke="#444" stroke-width="1.2"/>
<rect x="86" y="8.5" width="5.9" height="5.9" fill="#48f8f8" stroke="#2a5252" stroke-width="0.8"/>
<text x="111" y="16.8" font-size="15.7" text-anchor="start" >Pazarclk earthquake</text>
<circle cx="259.3" cy="11.3" r="3.3" fill="#f0308f" stroke="#4a1030" stroke-width="0.9"/>
<text x="282.2" y="16.8" font-size="15.7" text-anchor="start" >Wenchuan earthquake</text>
</svg></body></html>
